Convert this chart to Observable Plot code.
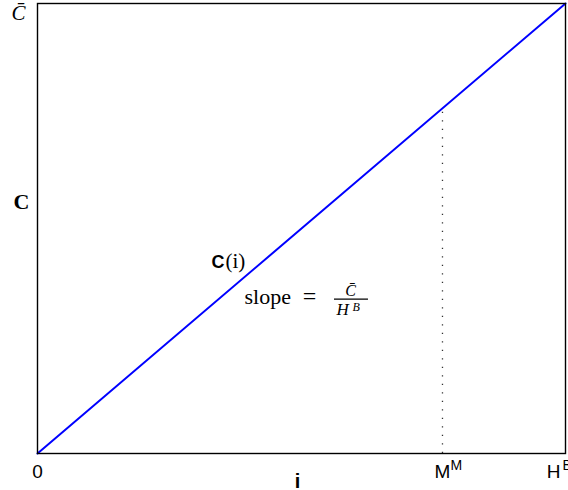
<!DOCTYPE html>
<html>
<head>
<meta charset="utf-8">
<script src="https://cdn.jsdelivr.net/npm/d3@7"></script>
<script src="https://cdn.jsdelivr.net/npm/@observablehq/plot@0.6"></script>
<style>
  html, body { margin: 0; padding: 0; background: #fff; }
  svg { display: block; }
</style>
</head>
<body>
<div id="chart"></div>
<script>
// ---- data ----
const hB = 1;          // H^B (right end of i axis)
const cBar = 1;        // C-bar (top of C axis)
const mM = 0.767;      // M^M marker position
const iPoints = [0, 1];      // i values of C(i)
const cPoints = [0, 1];      // C values of C(i)
const tickValues = [0, mM, hB];
const tickLabels = ["0", "M", "H"];
const tickSups = ["", "M", "B"];
const yTopLabel = "C\u0304";
const yAxisLabel = "C";
const xAxisLabel = "i";
const curveLabel = ["C", "(i)"];
const slopeText = ["slope", "=", "C\u0304", "H", "B"];
// annotation anchor (data units) for the slope text
const annoX = 0.392, annoY = 0.333;

const lineData = iPoints.map((v, k) => ({i: v, c: cPoints[k]}));
const serif = "Liberation Serif";
const sans = "Liberation Sans";
const pxX = 528, pxY = 450;

const chart = Plot.plot({
  width: 568,
  height: 490,
  marginLeft: 37,
  marginRight: 3,
  marginTop: 3,
  marginBottom: 37,
  x: {domain: [0, hB], axis: null},
  y: {domain: [0, cBar], axis: null},
  style: {background: "#fff", overflow: "visible"},
  marks: [
    Plot.ruleX([mM], {y1: 0, y2: mM * cBar / hB, stroke: "#333", strokeWidth: 1.3, strokeDasharray: "1.3,7.2"}),
    Plot.line(lineData, {x: "i", y: "c", stroke: "#0000ff", strokeWidth: 2}),
    Plot.frame({stroke: "black", strokeWidth: 1.4}),
    // x tick labels
    Plot.text(tickValues, {filter: (d, k) => k < 2, x: d => d, frameAnchor: "bottom", text: (d, k) => tickLabels[k],
      textAnchor: "middle", lineAnchor: "bottom", dy: 24, fontSize: 19, fontFamily: sans, fill: "black"}),
    Plot.text(tickValues, {filter: (d, k) => k === 2, x: d => d, frameAnchor: "bottom", text: (d, k) => tickLabels[k],
      textAnchor: "end", lineAnchor: "bottom", dx: -5, dy: 24, fontSize: 19, fontFamily: sans, fill: "black"}),
    Plot.text(tickValues, {filter: (d, k) => k === 1, x: d => d, frameAnchor: "bottom", text: (d, k) => tickSups[k],
      textAnchor: "start", lineAnchor: "bottom", dx: 8, dy: 16, fontSize: 14, fontFamily: sans, fill: "black"}),
    Plot.text(tickValues, {filter: (d, k) => k === 2, x: d => d, frameAnchor: "bottom", text: (d, k) => tickSups[k],
      textAnchor: "start", lineAnchor: "bottom", dx: -3, dy: 16, fontSize: 14, fontFamily: sans, fill: "black"}),
    // axis labels
    Plot.text([xAxisLabel], {frameAnchor: "bottom", text: d => d, textAnchor: "middle", lineAnchor: "bottom",
      dx: -4, dy: 34, fontSize: 20, fontWeight: "bold", fontFamily: sans, fill: "black"}),
    Plot.text([yAxisLabel], {frameAnchor: "left", text: d => d, textAnchor: "middle", lineAnchor: "bottom",
      dx: -16, dy: -20, fontSize: 22, fontWeight: "bold", fontFamily: serif, fill: "black"}),
    Plot.text([yTopLabel], {frameAnchor: "top-left", text: d => d, textAnchor: "middle", lineAnchor: "bottom",
      dx: -19, dy: 16, fontSize: 21, fontStyle: "italic", fontFamily: serif, fill: "black"}),
    // curve label C(i)
    Plot.text([curveLabel[0]], {x: annoX, y: annoY, text: d => d, textAnchor: "start", lineAnchor: "bottom",
      dx: -33, dy: -36, fontSize: 18, fontWeight: "bold", fontFamily: sans, fill: "black"}),
    Plot.text([curveLabel[1]], {x: annoX, y: annoY, text: d => d, textAnchor: "start", lineAnchor: "bottom",
      dx: -19, dy: -36, fontSize: 21, fontFamily: serif, fill: "black"}),
    // slope = Cbar / H^B
    Plot.text([slopeText[0]], {x: annoX, y: annoY, text: d => d, textAnchor: "start", lineAnchor: "bottom",
      fontSize: 22, fontFamily: serif, fill: "black"}),
    Plot.text([slopeText[1]], {x: annoX, y: annoY, text: d => d, textAnchor: "middle", lineAnchor: "bottom",
      dx: 65, fontSize: 24, fontFamily: serif, fill: "black"}),
    Plot.text([slopeText[2]], {x: annoX, y: annoY, text: d => d, textAnchor: "middle", lineAnchor: "bottom",
      dx: 106, dy: -8, fontSize: 16, fontStyle: "italic", fontFamily: serif, fill: "black"}),
    Plot.ruleY([annoY + 4.5 / pxY], {x1: annoX + 90 / pxX, x2: annoX + 124 / pxX, stroke: "black", strokeWidth: 1.2}),
    Plot.text([slopeText[3]], {x: annoX, y: annoY, text: d => d, textAnchor: "start", lineAnchor: "bottom",
      dx: 92, dy: 11, fontSize: 17, fontStyle: "italic", fontFamily: serif, fill: "black"}),
    Plot.text([slopeText[4]], {x: annoX, y: annoY, text: d => d, textAnchor: "start", lineAnchor: "bottom",
      dx: 108, dy: 7, fontSize: 12, fontStyle: "italic", fontFamily: serif, fill: "black"})
  ]
});
document.getElementById("chart").appendChild(chart);
</script>
</body>
</html>
